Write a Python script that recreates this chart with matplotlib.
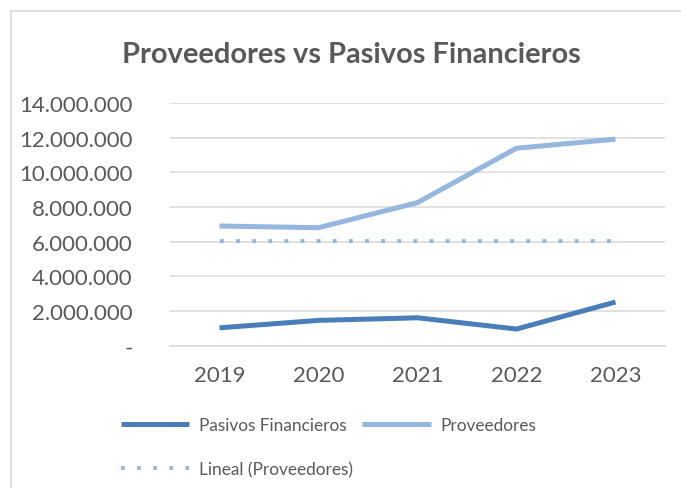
import matplotlib
matplotlib.use("Agg")
import matplotlib.pyplot as plt
from matplotlib.patches import Rectangle
from matplotlib.ticker import FuncFormatter

years = ["2019", "2020", "2021", "2022", "2023"]
pasivos = [1020000, 1450000, 1600000, 950000, 2510000]
proveedores = [6900000, 6800000, 8250000, 11390000, 11910000]
tendencia = [6030000, 6030000, 6030000, 6030000, 6030000]
y_ticks = [0, 2000000, 4000000, 6000000, 8000000, 10000000, 12000000, 14000000]

GREY = "#595959"
plt.rcParams["font.family"] = ["Lato", "DejaVu Sans"]


def miles(v, pos):
    """format with dots as thousand separator, zero as a dash"""
    if v == 0:
        return "-"
    return f"{int(v):,}".replace(",", ".")


def main():
    fig = plt.figure(figsize=(6.81, 4.89), dpi=100)
    W, H = 681, 489

    # chart area border (top and left visible)
    fig.patches.append(Rectangle((11 / W, -0.1), 1.0, (H - 12) / H + 0.1,
                                 transform=fig.transFigure, fill=False,
                                 edgecolor="#d9d9d9", linewidth=1.2))

    ax = fig.add_axes([170 / W, (H - 346.5) / H, 495 / W, 242.5 / H])
    x = range(len(years))
    l1, = ax.plot(x, pasivos, color="#4A7EBB", linewidth=3.6,
                  solid_capstyle="butt", label="Pasivos Financieros", zorder=3)
    l2, = ax.plot(x, proveedores, color="#95B6DF", linewidth=3.6,
                  solid_capstyle="butt", label="Proveedores", zorder=3)
    l3, = ax.plot(x, tendencia, color="#8EB4E3", linewidth=2.7,
                  linestyle=(0, (1, 3.3)), label="Lineal (Proveedores)", zorder=3)

    ax.set_xlim(-0.5, len(years) - 0.5)
    ax.set_ylim(0, 14000000)
    ax.set_yticks(y_ticks)
    ax.yaxis.set_major_formatter(FuncFormatter(miles))
    ax.set_xticks(list(x))
    ax.set_xticklabels(years)
    ax.grid(axis="y", color="#d9d9d9", linewidth=1.1)
    ax.set_axisbelow(True)
    for s in ["top", "right", "left"]:
        ax.spines[s].set_visible(False)
    ax.spines["bottom"].set_color("#d9d9d9")
    ax.spines["bottom"].set_linewidth(1.1)
    ax.tick_params(axis="both", length=0, labelsize=16, labelcolor=GREY)
    ax.tick_params(axis="y", pad=27)
    ax.tick_params(axis="x", pad=14)

    fig.text(351 / W, 1 - 55 / H, "Proveedores vs Pasivos Financieros",
             ha="center", va="center", fontsize=20.9, fontweight="bold",
             color=GREY)

    leg = fig.legend(handles=[l1, l3, l2], ncol=2, loc="upper left",
                     bbox_to_anchor=(105 / W, 1 - 403 / H), frameon=False,
                     fontsize=12.4, handlelength=4.0, handletextpad=0.55,
                     columnspacing=0.55, labelspacing=1.6)
    for t in leg.get_texts():
        t.set_color(GREY)

    fig.savefig("out.png", dpi=100)


if __name__ == "__main__":
    main()
